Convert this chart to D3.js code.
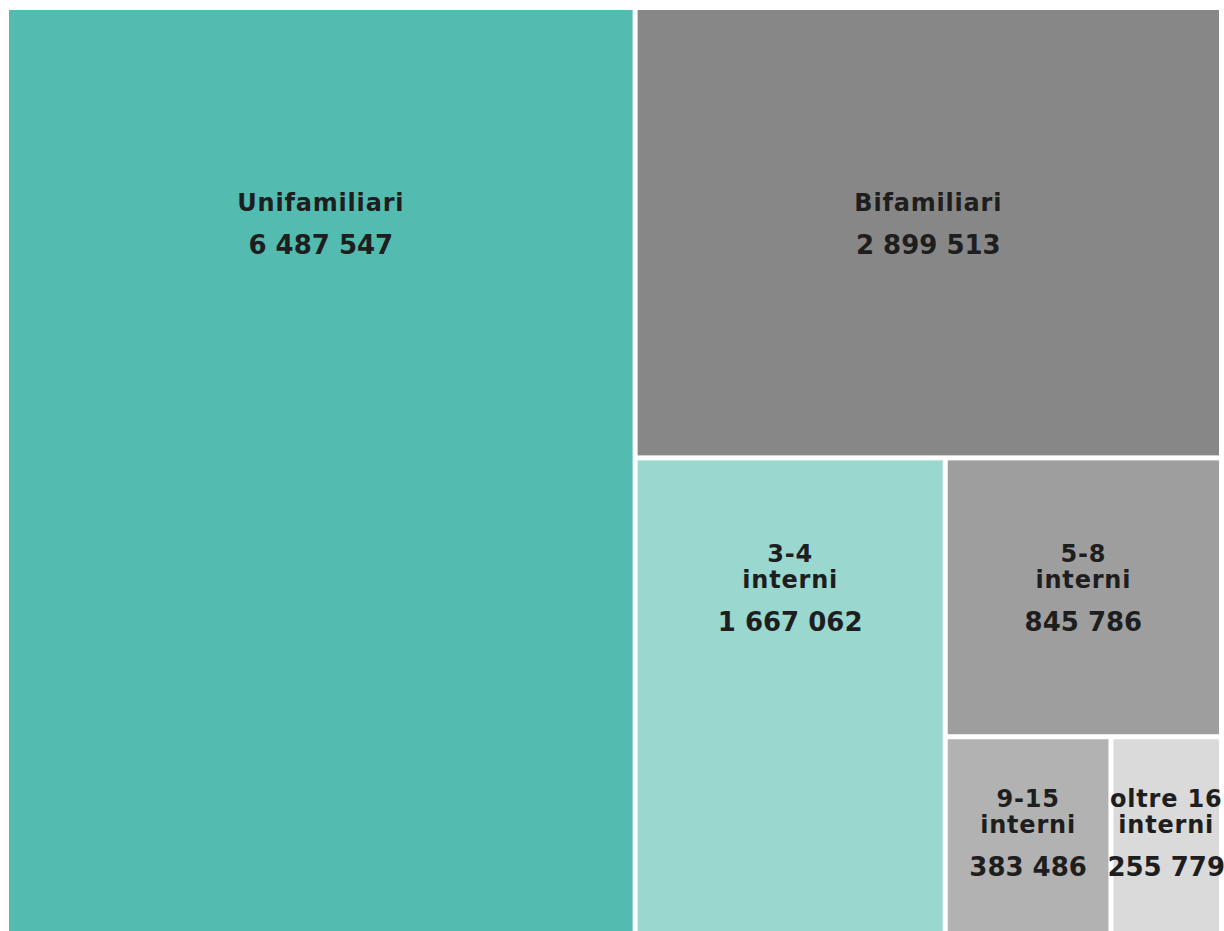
<!DOCTYPE html>
<html>
<head>
<meta charset="utf-8">
<script src="https://cdn.jsdelivr.net/npm/d3@7"></script>
<style>
  html, body { margin: 0; padding: 0; background: #fff; }
  svg { display: block; }
  .lbl { font-family: "DejaVu Sans", sans-serif; font-weight: bold; fill: #1e1e1e; text-anchor: middle; }
</style>
</head>
<body>
<svg id="chart" width="1224" height="931"></svg>
<script>
const categories = ["Unifamiliari", "Bifamiliari", "3-4 interni", "5-8 interni", "9-15 interni", "oltre 16 interni"];
const values = [6487547, 2899513, 1667062, 845786, 383486, 255779];
const colors = ["#53bbb0", "#878787", "#99d7cf", "#9e9e9e", "#b2b2b2", "#dadada"];

const width = 1224,
  height = 931;
const margin = { left: 9, top: 10, right: 5, bottom: -14 };

const locale = d3.formatLocale({ decimal: ",", thousands: " ", grouping: [3], currency: ["", "€"] });
const fmt = locale.format(",d");

const svg = d3.select("#chart");

const root = d3
  .hierarchy({
    children: categories.map(function (c, i) {
      return { name: c, value: values[i], color: colors[i] };
    })
  })
  .sum(function (d) {
    return d.value || 0;
  })
  .sort(function (a, b) {
    return b.value - a.value;
  });

d3
  .treemap()
  .tile(d3.treemapSquarify.ratio(1))
  .size([width - margin.left - margin.right, height - margin.top - margin.bottom])
  .paddingInner(5)(root);

const leaves = root.leaves();

const g = svg.append("g").attr("transform", "translate(" + margin.left + "," + margin.top + ")");

const cell = g
  .selectAll("g.cell")
  .data(leaves)
  .enter()
  .append("g")
  .attr("class", "cell");

cell
  .append("rect")
  .attr("x", function (d) {
    return d.x0;
  })
  .attr("y", function (d) {
    return d.y0;
  })
  .attr("width", function (d) {
    return d.x1 - d.x0;
  })
  .attr("height", function (d) {
    return d.y1 - d.y0;
  })
  .attr("fill", function (d) {
    return d.data.color;
  });

// labels line up with the shortest box that starts on the same row
function labelCenter(d) {
  let best = d;
  leaves.forEach(function (o) {
    if (Math.abs(o.y0 - d.y0) < 1 && o.y1 - o.y0 < best.y1 - best.y0) best = o;
  });
  return (best.y0 + best.y1) / 2;
}

function labelLines(name) {
  const i = name.indexOf(" interni");
  return i > 0 ? [name.slice(0, i), "interni"] : [name];
}

const lineH = 26;

cell.each(function (d) {
  const sel = d3.select(this);
  const cx = (d.x0 + d.x1) / 2;
  const cy = labelCenter(d);
  const lines = labelLines(d.data.name);
  const first = cy - 22 - ((lines.length - 1) * lineH) / 2;

  lines.forEach(function (t, k) {
    sel
      .append("text")
      .attr("class", "lbl")
      .attr("x", cx)
      .attr("y", first + k * lineH)
      .style("font-size", "24px")
      .style("letter-spacing", "0.8px")
      .text(t);
  });

  sel
    .append("text")
    .attr("class", "lbl")
    .attr("x", cx)
    .attr("y", first + (lines.length - 1) * lineH + 43)
    .style("font-size", "26px")
    .text(fmt(d.data.value));
});
</script>
</body>
</html>
